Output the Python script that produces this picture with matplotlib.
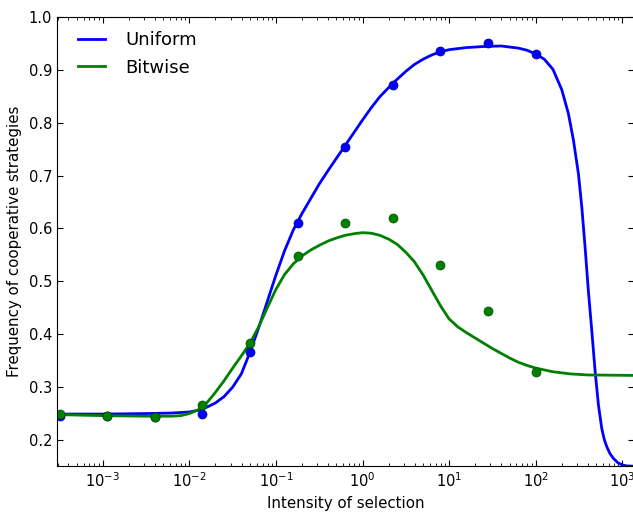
import matplotlib
matplotlib.use("Agg")
import matplotlib.pyplot as plt

# simulation points
sel_points = [3.16e-4, 1.12e-3, 3.98e-3, 1.41e-2, 5.01e-2, 0.178, 0.631, 2.24, 7.94, 28.2, 100.0]
uniform_points = [0.246, 0.246, 0.244, 0.250, 0.367, 0.611, 0.754, 0.871, 0.935, 0.950, 0.929]
bitwise_points = [0.250, 0.245, 0.243, 0.266, 0.383, 0.548, 0.610, 0.619, 0.531, 0.443, 0.328]

# theory curves (log10 of selection intensity)
uniform_logx = [-3.53, -3.0, -2.5, -2.2, -2.0, -1.9, -1.8, -1.7, -1.6, -1.5, -1.4, -1.3,
                -1.2, -1.1, -1.0, -0.9, -0.8, -0.7, -0.6, -0.5, -0.4, -0.3, -0.2, -0.1,
                0.0, 0.1, 0.2, 0.3, 0.4, 0.5, 0.6, 0.7, 0.8, 0.9, 1.0, 1.2, 1.4, 1.6,
                1.8, 1.9, 2.0, 2.1, 2.2, 2.303, 2.379, 2.437, 2.495, 2.534, 2.572, 2.61,
                2.65, 2.688, 2.726, 2.765, 2.795, 2.823, 2.86, 2.9, 2.95, 3.0, 3.05, 3.2]
uniform_curve = [0.249, 0.249, 0.250, 0.251, 0.253, 0.256, 0.262, 0.270, 0.282, 0.300, 0.325, 0.366,
                 0.412, 0.462, 0.512, 0.558, 0.597, 0.628, 0.656, 0.684, 0.709, 0.733, 0.757, 0.781,
                 0.805, 0.828, 0.849, 0.866, 0.882, 0.897, 0.910, 0.920, 0.928, 0.934, 0.938, 0.942, 0.944, 0.945,
                 0.941, 0.937, 0.930, 0.920, 0.901, 0.862, 0.817, 0.767, 0.703, 0.640, 0.564, 0.481,
                 0.405, 0.329, 0.266, 0.221, 0.200, 0.187, 0.174, 0.165, 0.157, 0.153, 0.151, 0.150]

bitwise_logx = [-3.53, -3.0, -2.5, -2.2, -2.1, -2.0, -1.9, -1.8, -1.7, -1.6, -1.5, -1.4,
                -1.3, -1.2, -1.1, -1.0, -0.9, -0.8, -0.7, -0.6, -0.5, -0.4, -0.3, -0.2,
                -0.1, 0.0, 0.1, 0.2, 0.3, 0.4, 0.5, 0.6, 0.7, 0.8, 0.9, 1.0, 1.1, 1.2,
                1.3, 1.4, 1.5, 1.6, 1.7, 1.8, 1.9, 2.0, 2.2, 2.4, 2.6, 3.2]
bitwise_curve = [0.248, 0.246, 0.245, 0.245, 0.246, 0.250, 0.257, 0.270, 0.290, 0.312, 0.336, 0.359,
                 0.383, 0.414, 0.450, 0.485, 0.513, 0.533, 0.548, 0.559, 0.568, 0.576, 0.582, 0.587,
                 0.590, 0.592, 0.591, 0.587, 0.580, 0.570, 0.555, 0.537, 0.512, 0.483, 0.454, 0.429, 0.414, 0.403,
                 0.393, 0.383, 0.373, 0.364, 0.355, 0.347, 0.341, 0.336, 0.329, 0.325, 0.323, 0.322]

fig = plt.figure(figsize=(6.33, 5.12), dpi=100)
ax = fig.add_axes([0.090, 0.089, 0.912, 0.878])

ax.plot([10 ** v for v in uniform_logx], uniform_curve, color='b', lw=2, label='Uniform')
ax.plot([10 ** v for v in bitwise_logx], bitwise_curve, color=(0, 0.5, 0), lw=2, label='Bitwise')
ax.plot(sel_points, uniform_points, 'o', color='b', mec=(0, 0, 0.5), mew=0.5, ms=6.5)
ax.plot(sel_points, bitwise_points, 'o', color=(0, 0.5, 0), mec=(0, 0.3, 0), mew=0.5, ms=6.5)

ax.set_xscale('log')
ax.set_xlim(2.95e-4, 1.38e3)
ax.set_ylim(0.15, 1.0)
ax.set_yticks([0.2, 0.3, 0.4, 0.5, 0.6, 0.7, 0.8, 0.9, 1.0])
ax.tick_params(which='both', direction='in', top=True, right=True, labelsize=10.5)
ax.tick_params(which='major', length=4)
ax.tick_params(which='minor', length=2)
ax.set_xlabel('Intensity of selection', fontsize=10.8, labelpad=4)
ax.set_ylabel('Frequency of cooperative strategies', fontsize=10.8, labelpad=5)

ax.legend(loc='upper left', bbox_to_anchor=(0.024, 0.984), borderaxespad=0,
          frameon=False, fontsize=13, handlelength=1.5, handletextpad=1.1,
          labelspacing=0.52)

fig.savefig('out.png', dpi=100)
